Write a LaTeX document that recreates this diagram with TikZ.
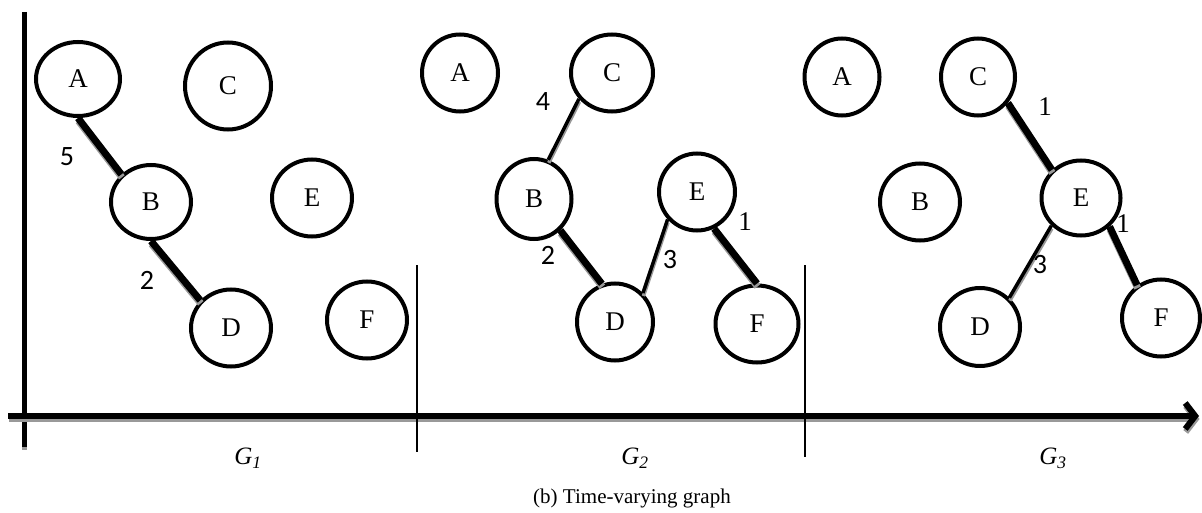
\documentclass[tikz,border=0pt]{standalone}
\usepackage{fontspec}
\setmainfont{Liberation Serif}
\newfontfamily\wfont{Carlito}
\usetikzlibrary{shapes.geometric,arrows.meta}

% edge with a grey shadow below it
\newcommand\shedge[3]{%
  \draw[#1,gray!80,transform canvas={shift={(0.5pt,-3pt)}}] (#2) -- (#3);
  \draw[#1] (#2) -- (#3);}

\begin{document}
\begin{tikzpicture}[x=1pt,y=-1pt,
    vertex/.style={draw,ellipse,fill=white,line width=4pt,inner sep=0pt,
      minimum width=80pt,minimum height=77pt,font=\fontsize{27}{32}\selectfont},
    heavy/.style={line width=7pt},
    light/.style={line width=3.5pt},
    weight/.style={inner sep=0pt,font=\wfont\fontsize{28}{32}\selectfont},
    weightone/.style={inner sep=0pt,font=\fontsize{27}{32}\selectfont},
    glabel/.style={font=\itshape\fontsize{25}{30}\selectfont}]
  \useasboundingbox (0,0) rectangle (1202,513);

  % axes
  \coordinate (ytop) at (24,12);
  \coordinate (ybot) at (24,447);
  \coordinate (xleft) at (8,416);
  \coordinate (xright) at (1199,416);
  \shedge{line width=5pt}{ytop}{ybot}
  \shedge{line width=6pt,-{Straight Barb[length=10pt,width=26pt]}}{xleft}{xright}
  \coordinate (s1top) at (417,265);
  \coordinate (s1bot) at (417,452);
  \coordinate (s2top) at (805,265);
  \coordinate (s2bot) at (805,457);
  \draw[line width=1.5pt] (s1top) -- (s1bot);
  \draw[line width=1.5pt] (s2top) -- (s2bot);

  % G1
  \node[vertex,minimum width=84pt,minimum height=74pt] (a1) at (78,79) {A};
  \node[vertex,minimum width=86pt,minimum height=87pt] (c1) at (228,86) {C};
  \node[vertex,minimum height=74pt] (b1) at (151,202) {B};
  \node[vertex] (e1) at (312,198) {E};
  \node[vertex] (d1) at (231,328) {D};
  \node[vertex] (f1) at (367,320) {F};
  \shedge{heavy}{a1.south}{b1.137}
  \shedge{heavy}{b1.south}{d1.138}
  \node[weight] (w15) at (67,157) {5};
  \node[weight] (w12) at (147,280) {2};

  % G2
  \node[vertex,minimum width=76pt] (a2) at (460,73) {A};
  \node[vertex,minimum width=82pt] (c2) at (612,73) {C};
  \node[vertex,minimum width=75pt,minimum height=80pt] (b2) at (534,199) {B};
  \node[vertex,minimum width=76pt] (e2) at (697,192) {E};
  \node[vertex,minimum width=76pt] (d2) at (615,322) {D};
  \node[vertex,minimum width=83pt] (f2) at (757,324) {F};
  \shedge{light}{c2.218}{b2.70}
  \shedge{heavy}{b2.310}{d2.109}
  \shedge{light}{d2.46}{e2.223}
  \shedge{heavy}{e2.295}{f2.north}
  \node[weight] (w24) at (543,102) {4};
  \node[weight] (w22) at (548,255) {2};
  \node[weight] (w23) at (670,260) {3};
  \node[weightone] (w21) at (745,222) {1};

  % G3
  \node[vertex,minimum width=75pt] (a3) at (842,77) {A};
  \node[vertex,minimum width=74pt] (c3) at (978,77) {C};
  \node[vertex] (b3) at (920,202) {B};
  \node[vertex,minimum width=79pt,minimum height=75pt] (e3) at (1081,198) {E};
  \node[vertex,minimum height=78pt] (d3) at (980,327) {D};
  \node[vertex,minimum width=78pt] (f3) at (1161,318) {F};
  \shedge{heavy}{c3.319}{e3.136}
  \shedge{light}{e3.223}{d3.45}
  \shedge{heavy}{e3.315}{f3.126}
  \node[weightone] (w31a) at (1045,107) {1};
  \node[weight] (w33) at (1040,265) {3};
  \node[weightone] (w31b) at (1123,224) {1};

  % labels
  \node[glabel] (g1) at (248,458) {G\textsubscript{1}};
  \node[glabel] (g2) at (635,458) {G\textsubscript{2}};
  \node[glabel] (g3) at (1053,458) {G\textsubscript{3}};
  \node[font=\fontsize{21}{25}\selectfont] (cap) at (632,498) {(b) Time-varying graph};
\end{tikzpicture}
\end{document}
